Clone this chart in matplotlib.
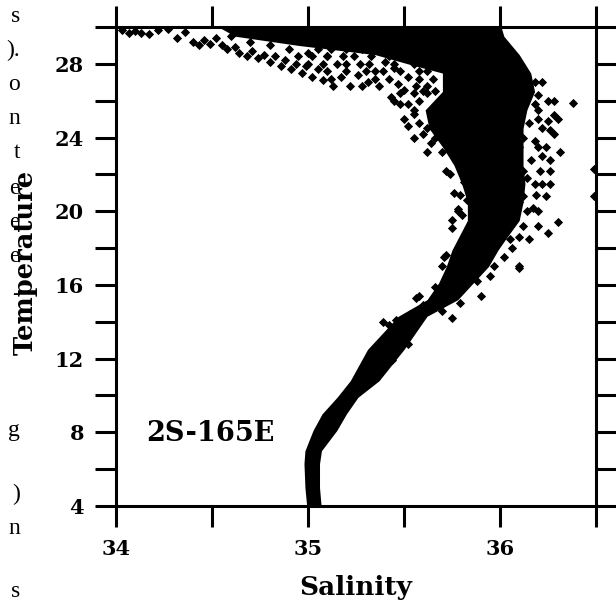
import matplotlib
matplotlib.use("Agg")
import matplotlib.pyplot as plt
import numpy as np

# ---------------- data ----------------
x_ticks = [34.0, 34.5, 35.0, 35.5, 36.0, 36.5]
x_tick_labels = ["34", "", "35", "", "36", ""]
y_ticks = [4, 6, 8, 10, 12, 14, 16, 18, 20, 22, 24, 26, 28, 30]
y_tick_labels = ["4", "", "8", "", "12", "", "16", "", "20", "", "24", "", "28", ""]

station_label = "2S-165E"
x_label = "Salinity"
y_label = "Temperature"

# dense (solid) part of the T-S cloud: envelope per temperature level
core_T = [3.8, 5.0, 6.3, 7.0, 8.1, 9.0, 9.9, 10.8, 12.5, 14.3, 15.2, 16.1, 17.0, 17.9,
          18.5, 19.5, 20.5, 21.5, 22.5, 23.5, 24.5, 25.5, 26.5, 27.5, 28.0, 28.5,
          29.0, 29.5, 30.2]
core_S_low = [34.995, 34.984, 34.979, 34.984, 35.026, 35.073, 35.151, 35.22, 35.31, 35.47,
              35.62, 35.68, 35.72, 35.75, 35.78, 35.83, 35.83, 35.80, 35.76, 35.70,
              35.63, 35.61, 35.70, 35.70, 35.52, 35.35, 34.95, 34.62, 34.50]
core_S_high = [35.07, 35.06, 35.06, 35.07, 35.15, 35.20, 35.26, 35.37, 35.50, 35.62,
               35.78, 35.86, 35.94, 35.99, 36.03, 36.10, 36.12, 36.13, 36.12, 36.12,
               36.12, 36.14, 36.18, 36.16, 36.13, 36.10, 36.06, 36.02, 36.00]

# scattered observations around the dense part
top_band_S = [34.03, 34.07, 34.10, 34.13, 34.17, 34.32, 34.40, 34.43, 34.46, 34.49, 34.52,
              34.55, 34.58, 34.62, 34.64, 34.68, 34.71, 34.74, 34.77, 34.80, 34.83, 34.86,
              34.88, 34.91, 34.94, 34.97, 34.99, 35.02, 35.05, 35.08, 35.13, 35.17, 35.22,
              35.26, 35.31, 35.35, 35.39, 35.43, 35.47, 35.50, 35.55, 35.58, 35.52, 35.45,
              35.40, 35.20, 35.10, 35.00, 34.90, 34.80, 34.70, 34.60,
              35.05, 35.12, 35.20, 35.28,
              34.95, 35.02, 35.10, 35.18, 35.24, 35.33, 35.42,
              35.00, 35.08, 35.15, 35.27, 35.32, 35.45, 35.55,
              35.10, 35.20, 35.30, 35.48, 35.58, 35.62,
              35.12, 35.35, 35.42, 35.58, 35.65,
              35.28, 35.37, 35.56, 35.62,
              35.48, 35.55, 35.62, 35.52,
              34.22, 34.27, 34.36]
top_band_T = [29.85, 29.70, 29.80, 29.70, 29.60, 29.40, 29.20, 29.00, 29.30, 29.10, 29.40,
              29.00, 28.80, 28.90, 28.60, 28.40, 28.70, 28.30, 28.50, 28.10, 28.40, 27.90,
              28.20, 27.70, 28.00, 27.50, 27.90, 27.30, 27.70, 27.10, 26.80, 27.30, 26.80,
              27.40, 27.00, 27.60, 27.60, 26.20, 26.90, 26.60, 25.30, 26.00, 27.30, 27.80,
              28.10, 28.00, 28.40, 28.60, 28.80, 29.00, 29.20, 29.50,
              28.8, 28.8, 28.8, 28.8,
              28.4, 28.4, 28.4, 28.4, 28.4, 28.4, 28.4,
              28.0, 28.0, 28.0, 28.0, 28.0, 28.0, 28.0,
              27.6, 27.6, 27.6, 27.6, 27.6, 27.6,
              27.2, 27.2, 27.2, 27.2, 27.2,
              26.8, 26.8, 26.8, 26.8,
              26.4, 26.4, 26.4, 25.8,
              29.85, 29.90, 29.75]

upper_cloud_S = [35.60, 35.64, 35.76, 35.79, 35.81, 35.79, 35.83, 35.78, 35.75, 35.75,
                 35.81, 35.71, 35.70, 35.78, 35.72, 35.58, 35.62, 35.66, 35.50, 35.52,
                 35.48, 35.45, 36.31, 36.26, 36.19, 36.21, 36.16, 36.28, 36.24, 36.30,
                 36.25, 36.10, 36.14, 36.17, 36.38, 36.49, 36.49, 36.05, 36.10, 36.15,
                 36.20, 36.22, 36.12, 36.18, 36.25, 36.28, 36.20, 36.25, 36.15, 36.10,
                 36.12, 36.05, 36.02, 36.08, 36.10, 36.05, 36.08, 36.05, 36.02, 36.06,
                 36.10, 36.06, 36.02, 35.97, 35.95, 36.12, 36.18, 36.22,
                 36.18, 36.22, 36.28, 36.20, 36.30, 36.08, 36.26, 36.10, 36.20,
                 36.08, 36.26, 36.12, 36.26, 36.10, 36.18, 36.22, 36.12, 36.24,
                 36.14, 36.20, 36.12, 36.20, 36.05, 36.15,
                 35.60, 35.66, 35.55, 35.55, 35.62, 35.70, 35.74, 35.76, 35.80]
upper_cloud_T = [24.2, 23.7, 23.2, 22.6, 21.6, 20.9, 20.6, 20.0, 19.5, 19.1,
                 18.4, 17.5, 17.0, 20.1, 22.2, 24.8, 24.5, 24.0, 25.0, 24.6,
                 25.8, 26.0, 23.2, 21.5, 20.9, 22.2, 22.8, 24.2, 23.5, 19.4,
                 18.8, 17.0, 21.8, 20.2, 25.9, 22.3, 20.8, 25.0, 25.3, 24.8,
                 25.5, 24.5, 24.0, 23.8, 24.9, 25.2, 26.3, 26.0, 26.6, 27.0,
                 27.4, 27.8, 28.2, 19.8, 20.5, 21.2, 22.0, 22.6, 23.2, 23.8,
                 18.6, 18.0, 17.5, 17.0, 16.5, 26.0, 25.8, 23.0,
                 27.0, 27.0, 26.0, 25.0, 25.0, 24.4, 24.4, 23.5, 23.5,
                 22.8, 22.8, 22.2, 22.2, 21.5, 21.5, 21.5, 20.8, 20.8,
                 20.0, 20.0, 19.2, 19.2, 18.5, 18.5,
                 26.5, 26.5, 25.5, 24.0, 23.2, 23.2, 22.0, 21.0, 19.8]

lower_limb_S = [35.39, 35.58, 35.56, 35.46, 35.53, 35.75, 35.79, 35.90, 36.10, 35.72,
                35.42, 35.60, 35.66, 35.88, 35.70, 35.55, 35.35, 35.52, 35.30, 35.44]
lower_limb_T = [14.0, 15.4, 15.3, 14.1, 14.4, 14.2, 15.0, 15.4, 16.9, 17.6,
                13.8, 14.9, 15.9, 16.2, 14.6, 13.8, 12.0, 12.8, 11.2, 11.9]

# fragments of the surrounding page text visible at the left edge
margin_text = ["s", ").", "o", "n", "t", "e", "e", "e", "-", "g", ")", "n", "s"]
margin_text_y_px = [22, 56, 90, 124, 158, 194, 228, 262, 300, 436, 500, 534, 597]

# ---------------- figure ----------------
W, H = 616, 603
fig = plt.figure(figsize=(W / 100, H / 100), dpi=100)
fig.patch.set_facecolor("white")
ax = fig.add_axes([116 / W, 1 - 506 / H, (596 - 116) / W, (506 - 27) / H])

ax.fill_betweenx(core_T, core_S_low, core_S_high, color="black", lw=0)
all_S = top_band_S + upper_cloud_S + lower_limb_S
all_T = top_band_T + upper_cloud_T + lower_limb_T
ax.scatter(all_S, all_T, s=22, marker="D", color="black", lw=0)

ax.set_xlim(34.0, 36.5)
ax.set_ylim(4, 30)
ax.set_xticks(x_ticks)
ax.set_xticklabels(x_tick_labels)
ax.set_yticks(y_ticks)
ax.set_yticklabels(y_tick_labels)

bold_font = dict(family="DejaVu Serif", weight="bold")
for lab in ax.get_xticklabels() + ax.get_yticklabels():
    lab.set_fontfamily("DejaVu Serif")
    lab.set_fontweight("bold")
    lab.set_fontsize(15)

ax.tick_params(axis="both", which="both", direction="out", length=15, width=2.2,
               top=True, right=True, color="black")
ax.tick_params(axis="x", pad=9)
ax.tick_params(axis="y", pad=8)
for sp in ax.spines.values():
    sp.set_linewidth(2.2)

ax.text(34.49, 7.95, station_label, ha="center", va="center", fontsize=19.5, **bold_font)

fig.text(356 / W, 1 - 588 / H, x_label, ha="center", va="center", fontsize=19, **bold_font)
fig.text(25 / W, 1 - 262 / H, y_label, ha="center", va="center", rotation=90,
         fontsize=18.5, **bold_font)

for t, ypx in zip(margin_text, margin_text_y_px):
    fig.text(20 / W, 1 - ypx / H, t, ha="right", va="baseline", fontsize=17,
             family="Liberation Serif")

fig.savefig("out.png", dpi=100)
